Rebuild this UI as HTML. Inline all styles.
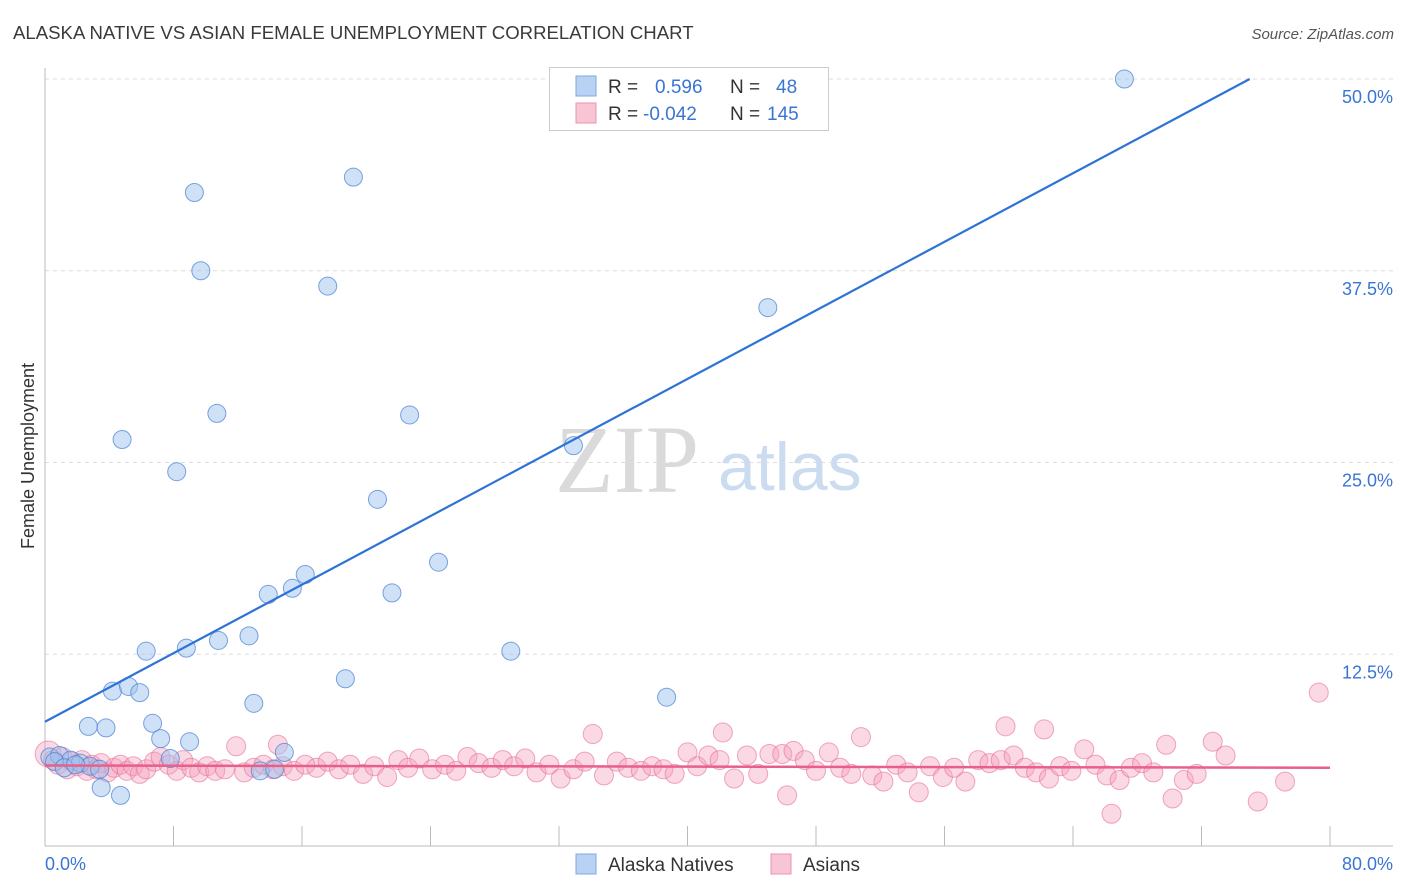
<!DOCTYPE html>
<html><head><meta charset="utf-8"><style>
body{margin:0;background:#fff;font-family:"Liberation Sans",sans-serif}
svg{display:block}
</style></head><body>
<svg id="c" width="1406" height="892">
<text x="13" y="39" font-size="18.6" fill="#3a3a3a">ALASKA NATIVE VS ASIAN FEMALE UNEMPLOYMENT CORRELATION CHART</text>
<text x="1394" y="39" font-size="15" fill="#555" font-style="italic" text-anchor="end">Source: ZipAtlas.com</text>
<text x="34" y="456" font-size="18" fill="#333" text-anchor="middle" transform="rotate(-90 34 456)">Female Unemployment</text>
<text x="555" y="492" font-size="96" fill="#dadada" font-family="Liberation Serif,serif">ZIP</text>
<text x="718" y="490" font-size="68" fill="#cbdcf0">atlas</text>
<g id="grid"></g><g id="pts"></g><g id="lines"></g>
<g>
<rect x="549.5" y="67.5" width="279" height="63" fill="#fff" stroke="#ccc"/>
<rect x="576" y="76" width="20" height="20" fill="#b9d2f3" stroke="#7fa8e0"/>
<rect x="576" y="103" width="20" height="20" fill="#f8c5d4" stroke="#eb94b0"/>
<text x="608" y="93" font-size="19" fill="#333">R = </text><text x="655" y="93" font-size="19" fill="#3a75d4">0.596</text>
<text x="730" y="93" font-size="19" fill="#333">N = </text><text x="776" y="93" font-size="19" fill="#3a75d4">48</text>
<text x="608" y="120" font-size="19" fill="#333">R = </text><text x="643" y="120" font-size="19" fill="#3a75d4">-0.042</text>
<text x="730" y="120" font-size="19" fill="#333">N = </text><text x="767" y="120" font-size="19" fill="#3a75d4">145</text>
</g>
<g>
<rect x="576" y="854" width="20" height="20" fill="#b9d2f3" stroke="#7fa8e0"/>
<text x="608" y="871" font-size="19" fill="#333">Alaska Natives</text>
<rect x="771" y="854" width="20" height="20" fill="#f8c5d4" stroke="#eb94b0"/>
<text x="803" y="871" font-size="19" fill="#333">Asians</text>
</g>
<text x="45" y="870" font-size="18" fill="#3a75d4">0.0%</text>
<text x="1393" y="870" font-size="18" fill="#3a75d4" text-anchor="end">80.0%</text>
</svg>
<script>
const yTicks=[12.5,25,37.5,50];
const yTickLabels=["12.5%","25.0%","37.5%","50.0%"];
const xTicks=[0,8,16,24,32,40,48,56,64,72,80];
const blueX=[67.2,9.3,19.2,9.7,17.6,45.0,10.7,22.7,4.8,8.2,32.9,20.7,24.5,16.2,15.4,13.9,21.6,6.3,8.8,10.8,12.7,29.0,4.2,5.2,5.9,18.7,38.7,13.0,2.7,3.8,6.7,7.2,9.0,14.9,7.8,0.3,0.9,1.6,2.2,2.8,3.4,13.4,14.3,3.5,4.7,0.6,1.2,1.9];
const blueY=[50.0,42.6,43.6,37.5,36.5,35.1,28.2,28.1,26.5,24.4,26.1,22.6,18.5,17.7,16.8,16.4,16.5,12.7,12.9,13.4,13.7,12.7,10.1,10.4,10.0,10.9,9.7,9.3,7.8,7.7,8.0,7.0,6.8,6.1,5.7,5.8,5.9,5.6,5.4,5.2,5.0,4.9,5.0,3.8,3.3,5.5,5.1,5.3];
const pinkX=[0.2,0.5,0.8,1.1,1.4,1.7,2.0,2.3,2.6,2.9,3.2,3.5,3.9,4.3,4.7,5.1,5.5,5.9,6.3,6.8,7.2,7.7,8.2,8.6,9.1,9.6,10.1,10.6,11.2,11.9,12.4,13.0,13.6,14.2,14.5,14.8,15.5,16.2,16.9,17.6,18.3,19.0,19.8,20.5,21.3,22.0,22.6,23.3,24.1,24.9,25.6,26.3,27.0,27.8,28.5,29.2,29.9,30.6,31.4,32.1,32.9,33.6,34.1,34.8,35.6,36.3,37.1,37.8,38.5,39.2,40.0,40.6,41.3,42.0,42.2,42.9,43.7,44.4,45.1,45.9,46.2,46.6,47.3,48.0,48.8,49.5,50.2,50.8,51.5,52.2,53.0,53.7,54.4,55.1,55.9,56.6,57.3,58.1,58.8,59.5,59.8,60.3,61.0,61.7,62.2,62.5,63.2,63.9,64.7,65.4,66.1,66.4,66.9,67.6,68.3,69.0,69.8,70.2,70.9,71.7,72.7,73.5,75.5,77.2,79.3];
const pinkY=[6.0,5.6,5.3,5.8,5.0,5.5,5.2,5.6,4.9,5.3,5.0,5.4,4.8,5.1,5.3,4.9,5.2,4.7,5.0,5.5,5.8,5.3,4.9,5.6,5.1,4.8,5.2,4.9,5.0,6.5,4.8,5.1,5.3,5.0,6.6,5.2,4.9,5.3,5.1,5.5,5.0,5.3,4.7,5.2,4.5,5.6,5.1,5.7,5.0,5.3,4.9,5.8,5.4,5.1,5.6,5.2,5.7,4.8,5.3,4.4,5.0,5.5,7.3,4.6,5.5,5.1,4.9,5.2,5.0,4.7,6.1,5.2,5.9,5.6,7.4,4.4,5.9,4.7,6.0,6.0,3.3,6.2,5.6,4.9,6.1,5.1,4.7,7.1,4.6,4.2,5.3,4.8,3.5,5.2,4.5,5.1,4.2,5.6,5.4,5.6,7.8,5.9,5.1,4.8,7.6,4.4,5.2,4.9,6.3,5.3,4.6,2.1,4.3,5.1,5.4,4.8,6.6,3.1,4.3,4.7,6.8,5.9,2.9,4.2,10.0];
const blueFit=[[0,8.1],[75,50.0]];
const pinkFit=[[0,5.25],[80,5.1]];
const NS="http://www.w3.org/2000/svg";
const X=v=>45+v*(1285/80);
const Y=v=>846-v*(767/50);
function mk(tag,attrs,parent){const e=document.createElementNS(NS,tag);for(const k in attrs)e.setAttribute(k,attrs[k]);parent.appendChild(e);return e;}
const grid=document.getElementById('grid'),pts=document.getElementById('pts'),lines=document.getElementById('lines'),svg=document.getElementById('c');
yTicks.forEach((t,i)=>{
 const l=mk('line',{x1:45,x2:1393,y1:Y(t),y2:Y(t),stroke:'#ddd','stroke-dasharray':'4 4'},grid);
 
 
 const tx=mk('text',{x:1393,y:Y(t)+24,'font-size':18,fill:'#3a75d4','text-anchor':'end'},svg);
 tx.textContent=yTickLabels[i];
 
 
});
const ax=mk('line',{x1:45,x2:45,y1:68,y2:846,stroke:'#bbb'},grid);


const bx=mk('line',{x1:45,x2:1393,y1:846,y2:846,stroke:'#bbb'},grid);


xTicks.forEach(t=>{
 const l=mk('line',{x1:X(t),x2:X(t),y1:846,y2:t===0?846:826,stroke:'#bbb'},grid);
 
 
});
pinkX.forEach((x,i)=>{
 const c=mk('circle',{cx:X(x),cy:Y(pinkY[i]),r:i===0?13:9.5,fill:'rgba(244,160,188,0.4)',stroke:'rgba(230,110,150,0.6)','stroke-width':1},pts);
 
 
});
blueX.forEach((x,i)=>{
 const c=mk('circle',{cx:X(x),cy:Y(blueY[i]),r:9,fill:'rgba(160,195,240,0.5)',stroke:'rgba(70,125,210,0.7)','stroke-width':1},pts);
 
 
});
const bl=mk('line',{x1:X(blueFit[0][0]),y1:Y(blueFit[0][1]),x2:X(blueFit[1][0]),y2:Y(blueFit[1][1]),stroke:'#2f72d6','stroke-width':2.2},lines);


const pl=mk('line',{x1:X(pinkFit[0][0]),y1:Y(pinkFit[0][1]),x2:X(pinkFit[1][0]),y2:Y(pinkFit[1][1]),stroke:'#e8608a','stroke-width':2.5},lines);


</script>
</body></html>
